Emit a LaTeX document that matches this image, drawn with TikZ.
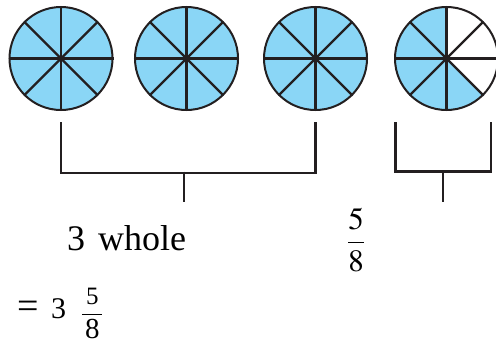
\documentclass[tikz,border=0pt]{standalone}
\usepackage{mathptmx}
\usepackage{fontspec}
\setmainfont{Liberation Serif}
\usepackage{tikz}
\usetikzlibrary{positioning}
\definecolor{PieBlue}{RGB}{138,214,246}
\definecolor{InkLine}{RGB}{35,31,32}

\begin{document}
\begin{tikzpicture}[
  x=1pt, y=1pt,
  pie/.style={circle, draw=InkLine, fill=PieBlue, line width=2pt, minimum size=103pt, inner sep=0pt},
  spoke/.style={draw=InkLine, line width=2.2pt},
  bracket/.style={draw=InkLine, line width=2.2pt},
  bigtext/.style={inner sep=0pt, font=\fontsize{36}{40}\selectfont},
  midtext/.style={inner sep=0pt, font=\fontsize{31}{36}\selectfont},
  lowtext/.style={inner sep=0pt, font=\fontsize{30}{34}\selectfont},
]
\useasboundingbox (0,-343) rectangle (496,0);
\node[pie] (p1) at (61,-58.5) {};
\node[pie] (p2) at (186.5,-58.5) {};
\node[pie] (p3) at (315.5,-58.5) {};
\coordinate (o4) at (446.5,-58.5);
\fill[white] (o4) circle[radius=51.5];
\fill[PieBlue] (o4) -- ++(90:51.5) arc[start angle=90, end angle=315, radius=51.5] -- cycle;
\node[pie, fill=none] (p4) at (o4) {};
\foreach \p in {p1,p2,p3,p4}
  \foreach \a/\b in {0/180,45/225,90/270,135/315}
    \draw[spoke] (\p.\a) -- (\p.\b);

\coordinate[below=11pt of p1] (b1);
\coordinate[below=11pt of p3] (b3);
\coordinate[below=51pt of b1] (k1);
\coordinate (t1) at (184,-171.5);
\coordinate[below=30pt of t1] (e1);
\draw[bracket] (b1) -- (k1) -| (b3);
\draw[bracket] (t1) -- (e1);

\coordinate (b4) at (395.5,-122);
\coordinate (b5) at (491,-122);
\coordinate[below=49.5pt of b4] (k4);
\coordinate (t4) at (443,-171.5);
\coordinate[below=30pt of t4] (e4);
\draw[bracket] (b4) -- (k4) -| (b5);
\draw[bracket] (t4) -- (e4);

\node[bigtext, anchor=base west] (whole) at (67,-250) {3\hspace{13pt}whole};
\node[midtext, anchor=base] (part) at (356,-250) {$\displaystyle\frac{5}{8}$};
\node[lowtext, anchor=base west] (total) at (17,-318) {{\fontsize{38}{40}\selectfont=}\hspace{12.5pt}3\hspace{15pt}{\fontsize{25}{30}\selectfont\raisebox{-3pt}{$\displaystyle\frac{\makebox[20pt]{5}}{\makebox[20pt]{\fontsize{29}{30}\selectfont 8}}$}}};
\end{tikzpicture}
\end{document}
